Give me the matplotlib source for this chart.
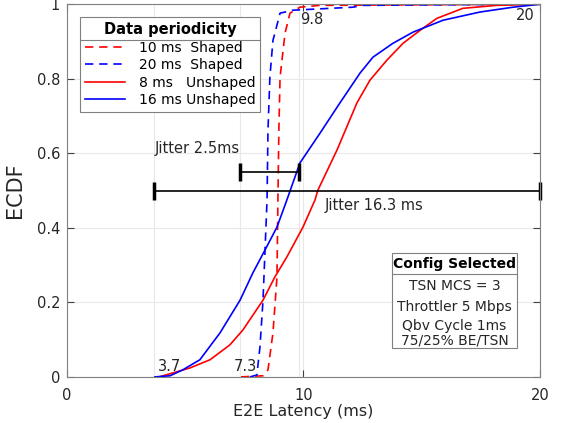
import matplotlib
matplotlib.use("Agg")
import matplotlib.pyplot as plt
from matplotlib.lines import Line2D
from matplotlib.patches import Rectangle

# ECDF curves (latency in ms, cumulative fraction)
lat_10_shaped = [7.36, 8.29, 8.50, 8.71, 8.88, 8.92, 8.96, 9.01, 9.22, 9.43, 9.85, 10.70, 20.0]
ecdf_10_shaped = [0, 0.003, 0.019, 0.118, 0.268, 0.475, 0.662, 0.804, 0.922, 0.976, 0.992, 0.997, 1.0]

lat_20_shaped = [7.74, 8.03, 8.16, 8.29, 8.46, 8.50, 8.58, 8.71, 8.79, 9.01, 9.56, 12.09, 12.52, 20.0]
ecdf_20_shaped = [0, 0.005, 0.080, 0.206, 0.475, 0.662, 0.804, 0.903, 0.922, 0.976, 0.984, 0.992, 0.997, 1.0]

lat_8_unshaped = [3.9, 5.20, 6.05, 6.89, 7.44, 8.29, 8.79, 9.30, 9.98, 10.49, 10.61, 11.42,
                  12.26, 12.81, 13.53, 14.21, 14.93, 15.64, 16.74, 18.18, 20.0]
ecdf_8_unshaped = [0, 0.024, 0.046, 0.086, 0.126, 0.206, 0.268, 0.322, 0.402, 0.475, 0.501, 0.609,
                   0.735, 0.796, 0.850, 0.895, 0.930, 0.962, 0.989, 0.997, 1.0]

lat_16_unshaped = [3.72, 4.36, 4.90, 5.62, 6.47, 7.32, 7.86, 8.37, 8.88, 9.30, 9.85, 10.70,
                   11.54, 12.39, 12.94, 13.78, 14.63, 15.90, 17.46, 18.86, 20.0]
ecdf_16_unshaped = [0, 0.003, 0.019, 0.046, 0.118, 0.206, 0.279, 0.340, 0.402, 0.475, 0.574, 0.654,
                    0.735, 0.815, 0.858, 0.895, 0.925, 0.957, 0.979, 0.992, 1.0]

# jitter ranges (min, max latency)
jitter_shaped = [7.3, 9.8]
jitter_unshaped = [3.7, 20.0]
marked_values = [3.7, 7.3, 9.8]

config_lines = ["TSN MCS = 3", "Throttler 5 Mbps", "Qbv Cycle 1ms", "75/25% BE/TSN"]

plt.rcParams['font.family'] = 'DejaVu Sans'
txt_col = '#262626'
box_col = '#808080'
dash = (5, 3.5)

fig = plt.figure(figsize=(5.63, 4.23), dpi=100)
ax = fig.add_axes([0.119, 0.109, 0.840, 0.881])

ax.plot(lat_10_shaped, ecdf_10_shaped, color='red', ls='--', dashes=dash, lw=1.2,
        label='10 ms  Shaped')
ax.plot(lat_20_shaped, ecdf_20_shaped, color='blue', ls='--', dashes=dash, lw=1.2,
        label='20 ms  Shaped')
ax.plot(lat_8_unshaped, ecdf_8_unshaped, color='red', lw=1.2, label='8 ms   Unshaped')
ax.plot(lat_16_unshaped, ecdf_16_unshaped, color='blue', lw=1.2, label='16 ms Unshaped')

# jitter bars
ax.plot(jitter_shaped, [0.55, 0.55], color='black', lw=1.2, marker='|', ms=13, mew=2.5)
ax.plot(jitter_unshaped, [0.5, 0.5], color='black', lw=1.2, marker='|', ms=13, mew=2.5,
        clip_on=False)
ax.text(3.7, 0.614, 'Jitter 2.5ms', fontsize=10.5, color=txt_col, va='center')
ax.text(10.9, 0.461, 'Jitter 16.3 ms', fontsize=10.5, color=txt_col, va='center')

# value annotations
ax.text(4.35, 0.027, '3.7', fontsize=10.5, color=txt_col, ha='center', va='center')
ax.text(7.53, 0.027, '7.3', fontsize=10.5, color=txt_col, ha='center', va='center')
ax.text(10.36, 0.96, '9.8', fontsize=10.5, color=txt_col, ha='center', va='center')
ax.text(19.4, 0.97, '20', fontsize=10.5, color=txt_col, ha='center', va='center')

ax.set_xlim(0, 20)
ax.set_ylim(0, 1)
ax.set_xticks([0, 10, 20])
ax.set_xticklabels(['0', '10', '20'])
ax.set_xticks(marked_values, minor=True)
ax.set_yticks([0, 0.2, 0.4, 0.6, 0.8, 1])
ax.set_yticklabels(['0', '0.2', '0.4', '0.6', '0.8', '1'])
ax.grid(True, which='both', color='#e8e8e8', lw=0.8)
ax.set_axisbelow(True)
ax.tick_params(which='major', direction='in', top=True, right=True, length=5,
               labelsize=10.5, colors='#404040', labelcolor=txt_col)
ax.tick_params(axis='x', which='major', pad=8)
ax.tick_params(axis='y', which='major', pad=5)
ax.tick_params(which='minor', length=0)
for s in ax.spines.values():
    s.set_color(box_col)
    s.set_linewidth(0.8)

ax.set_xlabel('E2E Latency (ms)', fontsize=11.5, color=txt_col, labelpad=1)
ax.set_ylabel('ECDF', fontsize=15, color=txt_col, labelpad=8)

leg = ax.legend(loc='upper left', bbox_to_anchor=(0.027, 0.965), borderaxespad=0,
                title='Data periodicity', title_fontproperties={'weight': 'bold', 'size': 10.5},
                fontsize=10, handlelength=2.9, fancybox=False, framealpha=1,
                edgecolor=box_col, labelspacing=0.25, borderpad=0.35, handletextpad=1.0)
leg.get_frame().set_linewidth(0.8)

# config box
ax.add_patch(Rectangle((13.74, 0.078), 5.29, 0.254, fill=True, facecolor='white',
                       edgecolor=box_col, lw=0.8, zorder=5))
ax.plot([13.74, 19.03], [0.276, 0.276], color=box_col, lw=0.8, zorder=6)
ax.text(16.385, 0.304, 'Config Selected', fontsize=10, weight='bold', color='black',
        ha='center', va='center', zorder=7)
for yy, line in zip([0.244, 0.188, 0.136, 0.098], config_lines):
    ax.text(16.385, yy, line, fontsize=10, color=txt_col, ha='center', va='center', zorder=7)

# separator under the legend title
fig.canvas.draw()
r = fig.canvas.get_renderer()
lb = leg.get_window_extent(r)
tb = leg.get_title().get_window_extent(r)
ysep = tb.y0 - 3
inv = fig.transFigure.inverted()
x0, y0 = inv.transform((lb.x0, ysep))
x1, _ = inv.transform((lb.x1, ysep))
fig.add_artist(Line2D([x0, x1], [y0, y0], color=box_col, lw=0.8, zorder=10))

fig.savefig('out.png', dpi=100)
